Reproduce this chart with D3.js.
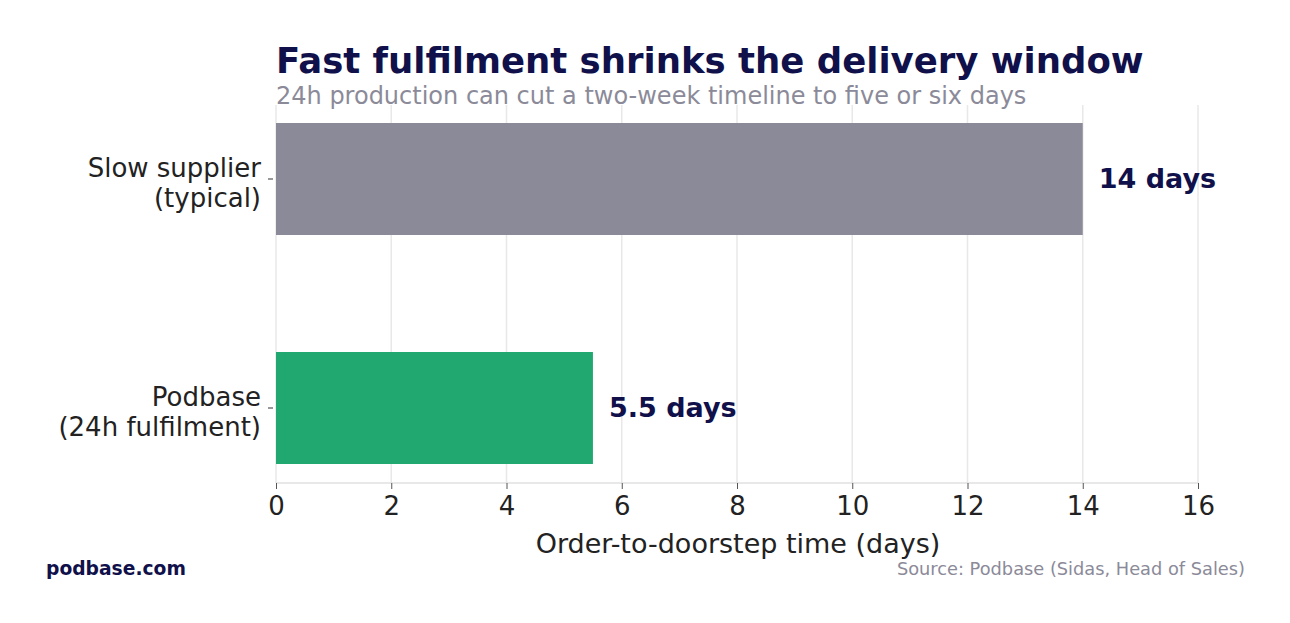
<!DOCTYPE html>
<html><head><meta charset="utf-8">
<script src="https://cdn.jsdelivr.net/npm/d3@7"></script>
<style>body{margin:0;background:#fff}text{font-family:"DejaVu Sans",sans-serif}</style>
</head><body><svg id="c" width="1290" height="623"></svg>
<script>
const categories = ["Slow supplier\n(typical)", "Podbase\n(24h fulfilment)"];
const values = [14, 5.5];
const valueLabels = ["14 days", "5.5 days"];
const colors = ["#8b8a99", "#20a870"];
const xTicks = [0, 2, 4, 6, 8, 10, 12, 14, 16];

const svg = d3.select("#c");
const navy = "#10104a";
const x = d3.scaleLinear().domain([0, 16]).range([276, 1198]);
const y = d3.scaleBand().domain(categories).range([64.5, 522.5]).paddingInner(0.511).paddingOuter(0.2555);

svg.append("g").selectAll("line").data(xTicks).join("line")
  .attr("x1", d => x(d)).attr("x2", d => x(d)).attr("y1", 105).attr("y2", 483)
  .attr("stroke", "#e8e8e8").attr("stroke-width", 1.5);
svg.append("line").attr("x1", 276).attr("x2", 1198).attr("y1", 483).attr("y2", 483).attr("stroke", "#e0e0e0").attr("stroke-width", 1.5);

svg.append("g").selectAll("rect").data(values).join("rect")
  .attr("x", x(0)).attr("y", (d, i) => y(categories[i]))
  .attr("width", d => x(d) - x(0)).attr("height", y.bandwidth())
  .attr("fill", (d, i) => colors[i]);

svg.append("g").selectAll("text").data(values).join("text")
  .attr("x", d => x(d) + 16).attr("y", (d, i) => y(categories[i]) + y.bandwidth() / 2)
  .attr("dy", "0.35em").attr("font-size", 27).attr("font-weight", "bold").attr("fill", navy)
  .text((d, i) => valueLabels[i]);

const xa = svg.append("g").attr("transform", "translate(0,483)")
  .call(d3.axisBottom(x).tickValues(xTicks).tickSize(6).tickPadding(8));
xa.select(".domain").remove();
xa.selectAll("line").attr("stroke", "#555");
xa.selectAll("text").attr("font-size", 26).attr("fill", "#222").attr("font-family", "DejaVu Sans");

categories.forEach(c => {
  const cy = y(c) + y.bandwidth() / 2;
  svg.append("line").attr("x1", 268).attr("x2", 273).attr("y1", cy).attr("y2", cy).attr("stroke", "#333");
  const lines = c.split("\n");
  const t = svg.append("text").attr("text-anchor", "end").attr("font-size", 26).attr("fill", "#222");
  lines.forEach((l, i) => t.append("tspan").attr("x", 261).attr("y", cy - 15 + i * 30 + 13).text(l));
});

svg.append("text").attr("x", 738).attr("y", 553).attr("text-anchor", "middle").attr("font-size", 27).attr("fill", "#222").text("Order-to-doorstep time (days)");
svg.append("text").attr("x", 276).attr("y", 73).attr("font-size", 35.5).attr("font-weight", "bold").attr("fill", navy).text("Fast fulfilment shrinks the delivery window");
svg.append("text").attr("x", 276).attr("y", 104).attr("font-size", 24).attr("fill", "#8b8a99").text("24h production can cut a two-week timeline to five or six days");
svg.append("text").attr("x", 46).attr("y", 575).attr("font-size", 18.7).attr("font-weight", "bold").attr("fill", navy).text("podbase.com");
svg.append("text").attr("x", 1245).attr("y", 575).attr("text-anchor", "end").attr("font-size", 17.8).attr("fill", "#8b8a99").text("Source: Podbase (Sidas, Head of Sales)");
</script></body></html>
